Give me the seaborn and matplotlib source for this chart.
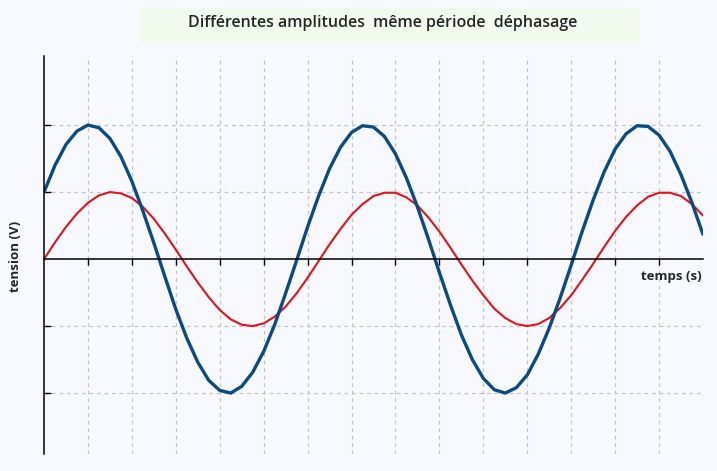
import pandas as pd
import numpy as np
import matplotlib.pyplot as plt
import seaborn as sns
from matplotlib.patches import Rectangle

# time axis (s) and the two tensions
temps = [i * 0.25 for i in range(61)]

tension_rouge = [0.00, 0.25, 0.48, 0.68, 0.84, 0.95, 1.00, 0.98, 0.91, 0.78,
                 0.60, 0.38, 0.14, -0.11, -0.35, -0.57, -0.76, -0.90, -0.98, -1.00,
                 -0.96, -0.86, -0.71, -0.51, -0.28, -0.03, 0.22, 0.45, 0.66, 0.82,
                 0.94, 0.99, 0.99, 0.92, 0.80, 0.62, 0.41, 0.17, -0.08, -0.32,
                 -0.54, -0.74, -0.88, -0.97, -1.00, -0.97, -0.88, -0.73, -0.54, -0.31,
                 -0.07, 0.18, 0.42, 0.63, 0.80, 0.93, 0.99, 0.99, 0.94, 0.82,
                 0.65]

tension_bleue = [1.00, 1.40, 1.71, 1.91, 2.00, 1.96, 1.80, 1.53, 1.16, 0.72,
                 0.24, -0.26, -0.75, -1.18, -1.54, -1.81, -1.96, -2.00, -1.90, -1.69,
                 -1.38, -0.98, -0.51, -0.02, 0.48, 0.94, 1.35, 1.67, 1.89, 1.99,
                 1.97, 1.83, 1.57, 1.21, 0.78, 0.30, -0.20, -0.68, -1.13, -1.50,
                 -1.78, -1.95, -2.00, -1.92, -1.73, -1.42, -1.03, -0.58, -0.09, 0.41,
                 0.88, 1.30, 1.64, 1.87, 1.99, 1.98, 1.85, 1.61, 1.26, 0.84,
                 0.37]

x_grid = list(range(1, 15))
y_grid = [-2, -1, 1, 2]

df = pd.DataFrame({"temps": temps, "rouge": tension_rouge, "bleue": tension_bleue})

sns.set_theme(style="white")
plt.rcParams["font.family"] = ["Open Sans", "DejaVu Sans"]

bg = "#f8f9fe"
fig = plt.figure(figsize=(7.17, 4.71), dpi=100, facecolor=bg)
ax = fig.add_axes([0.0614, 0.036, 0.919, 0.845])
ax.set_facecolor(bg)

# grid
for xv in x_grid:
    ax.axvline(xv, color="#c4c4c4", lw=0.9, ls=(0, (3, 3)), zorder=0)
for yv in y_grid:
    ax.axhline(yv, color="#c4c4c4", lw=0.9, ls=(0, (3, 3)), zorder=0)

sns.lineplot(data=df, x="temps", y="rouge", ax=ax, color="#e3121c", lw=1.5,
             solid_joinstyle="round")
sns.lineplot(data=df, x="temps", y="bleue", ax=ax, color="#0b4a82", lw=2.4,
             solid_joinstyle="round")

ax.set_xlim(0, 15)
ax.set_ylim(-2.91, 3.03)

ax.spines["top"].set_visible(False)
ax.spines["right"].set_visible(False)
ax.spines["bottom"].set_position(("data", 0))
for s in ("left", "bottom"):
    ax.spines[s].set_color("black")
    ax.spines[s].set_linewidth(1.1)

ax.set_xticks(x_grid)
ax.set_yticks(y_grid)
ax.set_xticklabels([])
ax.set_yticklabels([])
ax.tick_params(axis="x", direction="out", length=4, width=1, color="black", bottom=True)
ax.tick_params(axis="y", direction="in", length=5, width=1, color="black", left=True)
ax.set_xlabel("")
ax.set_ylabel("")

# axis labels
ax.text(14.98, -0.17, "temps (s)", ha="right", va="top", fontsize=9.5, fontweight="bold")
fig.text(0.021, 0.455, "tension (V)", rotation=90, ha="center", va="center",
         fontsize=9.5, fontweight="bold")

# title in its green box
fig.patches.append(Rectangle((140 / 717, 1 - 43 / 471), 500 / 717, 35 / 471,
                             transform=fig.transFigure, facecolor="#f1fcef",
                             edgecolor="none", zorder=0))
fig.text(383 / 717, 1 - 23 / 471, "Différentes amplitudes  même période  déphasage",
         ha="center", va="center", fontsize=11.5, fontweight="semibold")

plt.savefig("out.png", dpi=100, facecolor=bg)
